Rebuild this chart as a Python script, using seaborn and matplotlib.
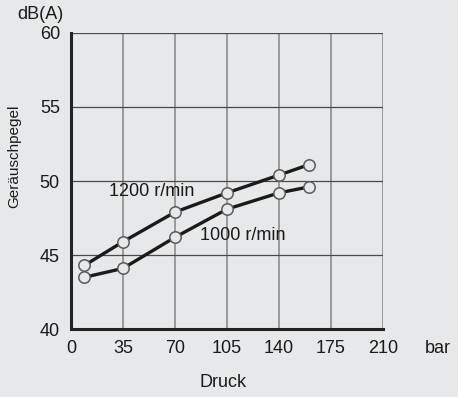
import matplotlib
matplotlib.use("Agg")
import matplotlib.pyplot as plt
import seaborn as sns
import pandas as pd

# Pressure (bar) and sound level dB(A) for two speeds
druck = [9, 35, 70, 105, 140, 160]
pegel_1200 = [44.3, 45.9, 47.9, 49.2, 50.4, 51.1]
pegel_1000 = [43.5, 44.1, 46.2, 48.1, 49.2, 49.6]
x_ticks = [0, 35, 70, 105, 140, 175, 210]
y_ticks = [40, 45, 50, 55, 60]

bg = "#e7e8e9"
ink = "#1a1a1a"
sns.set_theme(style="white")
plt.rcParams["font.family"] = ["Liberation Sans", "DejaVu Sans"]

df = pd.concat([
    pd.DataFrame({"Druck": druck, "Pegel": pegel_1200, "n": "1200 r/min"}),
    pd.DataFrame({"Druck": druck, "Pegel": pegel_1000, "n": "1000 r/min"}),
])

fig = plt.figure(figsize=(4.58, 3.97), dpi=100, facecolor=bg)
ax = fig.add_axes([0.155, 0.171, 0.681, 0.746])
ax.set_facecolor(bg)

sns.lineplot(data=df, x="Druck", y="Pegel", units="n", estimator=None,
             color=ink, linewidth=2.4, marker="o", markersize=8.2,
             markerfacecolor=bg, markeredgecolor="#5a5a5a", markeredgewidth=1.1,
             legend=False, ax=ax, zorder=3)

ax.set_xlim(0, 210)
ax.set_ylim(40, 60)
ax.set_xticks(x_ticks)
ax.set_yticks(y_ticks)
ax.tick_params(axis="both", length=0, labelsize=13, colors=ink)
ax.tick_params(axis="x", pad=8)
ax.tick_params(axis="y", pad=8)

for x in x_ticks[1:]:
    ax.axvline(x, color="#8c8c8c", linewidth=1.2, zorder=1)
for y in y_ticks[1:]:
    ax.axhline(y, color="#4a4a4a", linewidth=0.9, zorder=1)

for side in ["top", "right"]:
    ax.spines[side].set_visible(False)
for side in ["left", "bottom"]:
    ax.spines[side].set_color("#222222")
    ax.spines[side].set_linewidth(2.2)

ax.set_xlabel("Druck", fontsize=13, color=ink)
ax.xaxis.set_label_coords(0.487, -0.15)
ax.set_ylabel("Geräuschpegel", fontsize=11, color=ink)
ax.yaxis.set_label_coords(-0.158, 0.585)

ax.text(-0.025, 1.035, "dB(A)", transform=ax.transAxes, ha="right", va="bottom",
        fontsize=13, color=ink)
ax.text(1.135, -0.065, "bar", transform=ax.transAxes, ha="left", va="center",
        fontsize=13, color=ink)

ax.text(25.5, 49.3, "1200 r/min", fontsize=13, color=ink, ha="left", va="center")
ax.text(87, 46.3, "1000 r/min", fontsize=13, color=ink, ha="left", va="center")

fig.savefig("out.png", dpi=100, facecolor=bg)
